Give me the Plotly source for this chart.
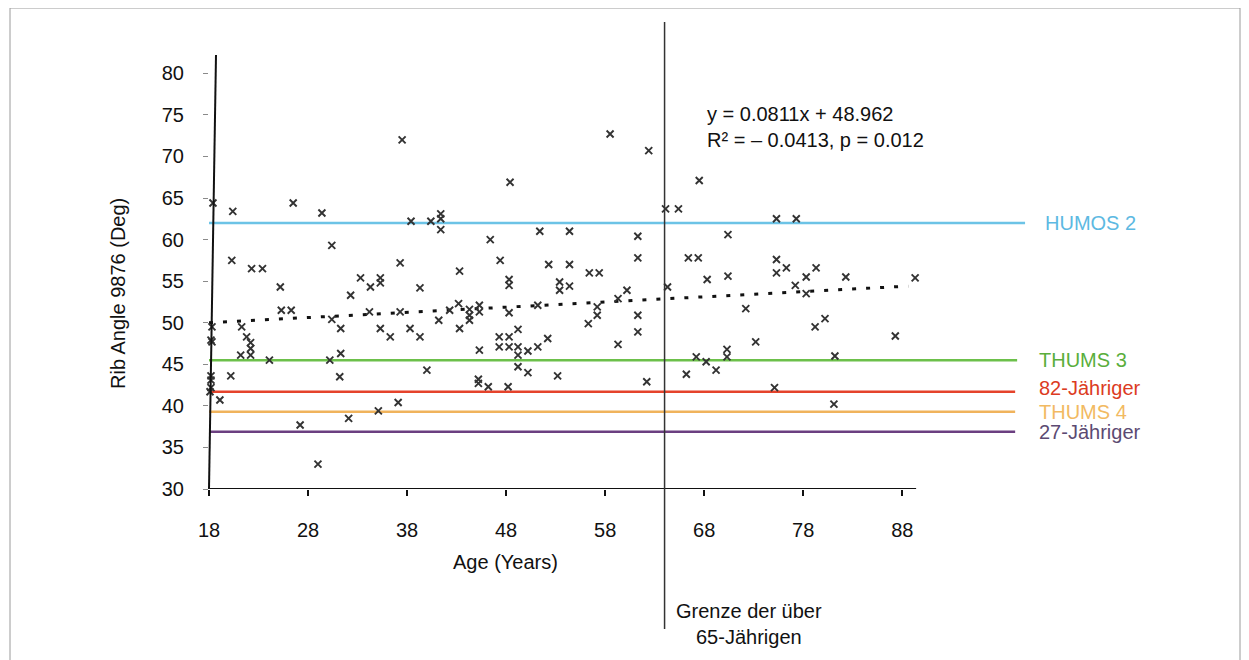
import plotly.graph_objects as go

# ---------------- data ----------------
age = [
    37.5, 18.4, 20.4, 26.5, 29.4, 38.4, 40.4, 41.4, 41.4, 41.4,
    48.4, 58.5, 62.4, 46.4, 51.4, 54.4, 61.3, 64.1, 65.4, 67.5,
    75.3, 77.3, 70.4, 30.4, 20.3, 22.3, 23.4, 25.2, 37.3, 33.3,
    34.3, 35.3, 35.3, 32.3, 39.3, 25.3, 26.3, 30.4, 34.2, 37.3,
    21.3, 18.3, 18.2, 21.8, 22.2, 22.2, 22.2, 21.2, 18.3, 31.3,
    35.3, 36.3, 38.3, 39.3, 31.3, 24.1, 30.2, 40.0, 20.2, 31.2,
    18.2, 18.2, 18.2, 18.1, 19.1, 37.1, 35.1, 32.1, 27.2, 29.0,
    47.4, 61.3, 43.3, 52.3, 54.4, 56.4, 57.4, 48.3, 48.3, 53.4,
    53.4, 54.4, 60.2, 59.3, 43.2, 42.3, 44.3, 44.3, 44.3, 45.3,
    45.3, 48.3, 51.2, 57.2, 57.2, 61.3, 41.2, 43.3, 56.3, 49.2,
    61.3, 47.3, 47.3, 48.3, 48.3, 49.2, 49.2, 50.2, 51.2, 52.2,
    45.3, 59.3, 49.2, 50.2, 53.2, 45.2, 45.2, 46.2, 48.2, 62.2,
    66.4, 67.4, 68.3, 70.4, 75.3, 75.3, 76.3, 77.2, 78.3, 79.3,
    78.3, 82.3, 89.3, 64.3, 72.2, 79.2, 80.2, 87.3, 73.2, 70.3,
    70.3, 67.2, 68.2, 69.2, 66.2, 81.2, 75.1, 81.1,
]
rib_angle = [
    72.0, 64.4, 63.4, 64.4, 63.2, 62.2, 62.2, 63.1, 62.5, 61.2,
    66.9, 72.7, 70.7, 60.0, 61.0, 61.0, 60.4, 63.7, 63.7, 67.1,
    62.5, 62.5, 60.6, 59.3, 57.5, 56.5, 56.5, 54.3, 57.2, 55.4,
    54.3, 55.4, 54.8, 53.3, 54.2, 51.5, 51.5, 50.4, 51.3, 51.3,
    49.5, 49.5, 47.9, 48.3, 47.6, 46.9, 46.1, 46.1, 47.7, 49.3,
    49.3, 48.3, 49.3, 48.3, 46.3, 45.5, 45.5, 44.3, 43.6, 43.5,
    43.6, 43.1, 42.2, 41.7, 40.7, 40.4, 39.4, 38.5, 37.7, 33.0,
    57.5, 57.8, 56.2, 57.0, 57.0, 56.0, 56.0, 55.2, 54.5, 54.9,
    53.9, 54.4, 53.9, 52.9, 52.3, 51.5, 51.6, 50.9, 50.3, 52.1,
    51.3, 51.2, 52.1, 51.9, 50.9, 50.9, 50.3, 49.3, 49.9, 49.2,
    48.9, 48.3, 47.1, 48.3, 47.1, 47.1, 46.1, 46.6, 47.1, 48.1,
    46.7, 47.4, 44.7, 44.0, 43.6, 43.2, 42.7, 42.3, 42.3, 42.9,
    57.8, 57.8, 55.2, 55.6, 57.6, 56.0, 56.6, 54.5, 55.5, 56.6,
    53.5, 55.5, 55.4, 54.3, 51.7, 49.5, 50.5, 48.4, 47.7, 46.8,
    45.9, 45.9, 45.3, 44.3, 43.8, 46.0, 42.2, 40.2,
]

trend_age = [18, 88.6]
trend_angle = [50.0, 54.4]

ref_names = ["HUMOS 2", "THUMS 3", "82-Jähriger", "THUMS 4", "27-Jähriger"]
ref_values = [62.0, 45.5, 41.7, 39.3, 36.9]
ref_end_age = [100.4, 99.6, 99.4, 99.4, 99.4]
ref_colors = ["#6cc3e6", "#6cc04a", "#e5432b", "#f0b35c", "#6b3f80"]
ref_text_colors = ["#5db9e2", "#5aae3c", "#dc3b22", "#f2ba62", "#5c4a72"]

age_ticks = [18, 28, 38, 48, 58, 68, 78, 88]
angle_ticks = [30, 35, 40, 45, 50, 55, 60, 65, 70, 75, 80]

border_age = 64.0
equation_lines = ["y = 0.0811x + 48.962", "R² = – 0.0413, p = 0.012"]
border_label = "Grenze der über<br>65-Jährigen"

# ---------------- layout geometry (pixels, page coordinates) ----------------
OFF = 8                     # default body margin of the html page
W, H = 1249 - OFF, 660 - OFF
PW, PH = 822, 434
ML, MT = 209 - OFF, 55 - OFF
MR, MB = W - ML - PW, H - MT - PH
X_RANGE = [18, 101]
Y_RANGE = [30, 82.2]
X_AXIS_END = 89.4
FONT = "Liberation Sans, Arial, sans-serif"


def px_x(p):
    return (p - OFF - ML) / PW


def px_y(p):
    return (MT + PH - (p - OFF)) / PH


fig = go.Figure()

# reference horizontal lines
for name, val, end, col in zip(ref_names, ref_values, ref_end_age, ref_colors):
    fig.add_trace(go.Scatter(x=[X_RANGE[0], end], y=[val, val], mode="lines",
                             line=dict(color=col, width=2.5), hoverinfo="skip",
                             showlegend=False, cliponaxis=False))

# trend line
fig.add_trace(go.Scatter(x=trend_age, y=trend_angle, mode="lines",
                         line=dict(color="#111111", width=3, dash="4px,10px"),
                         showlegend=False, hoverinfo="skip"))

# data points
fig.add_trace(go.Scatter(x=age, y=rib_angle, mode="markers",
                         marker=dict(symbol="x-thin", size=7,
                                     line=dict(color="#333333", width=1.9)),
                         showlegend=False, cliponaxis=False))

shapes = [
    dict(type="line", xref="x", yref="y", x0=X_RANGE[0], x1=X_AXIS_END,
         y0=Y_RANGE[0], y1=Y_RANGE[0], line=dict(color="#111111", width=2)),
    dict(type="line", xref="paper", yref="paper", x0=0, x1=px_x(216),
         y0=0, y1=1, line=dict(color="#111111", width=2)),
    dict(type="line", xref="x", yref="paper", x0=border_age, x1=border_age,
         y0=px_y(629), y1=px_y(22), line=dict(color="#333333", width=1.5)),
    dict(type="rect", xref="paper", yref="paper", x0=px_x(10), x1=px_x(1240),
         y0=px_y(675), y1=px_y(8), line=dict(color="#9a9a9a", width=1)),
]

annotations = []
label_x = [1043, 1037, 1037, 1037, 1037]
label_shift = [0, 0, 4, 0, 0]
for name, val, col, lx, sh in zip(ref_names, ref_values, ref_text_colors, label_x, label_shift):
    annotations.append(dict(text=name, xref="paper", yref="y", x=px_x(lx), y=val,
                            xanchor="left", yanchor="middle", yshift=sh, showarrow=False,
                            font=dict(family=FONT, size=20, color=col)))

annotations.append(dict(text="<br>".join(equation_lines), xref="paper", yref="paper",
                        x=px_x(705), y=px_y(127), xanchor="left", yanchor="middle",
                        align="left", showarrow=False,
                        font=dict(family=FONT, size=20, color="#111111")))
annotations.append(dict(text=border_label, xref="paper", yref="paper",
                        x=px_x(749), y=px_y(624), xanchor="center", yanchor="middle",
                        align="center", showarrow=False,
                        font=dict(family=FONT, size=20, color="#111111")))
annotations.append(dict(text="Rib Angle 9876 (Deg)", xref="paper", yref="paper",
                        x=px_x(118), y=px_y(294), textangle=-90, xanchor="center",
                        yanchor="middle", showarrow=False,
                        font=dict(family=FONT, size=20, color="#111111")))
annotations.append(dict(text="Age (Years)", xref="paper", yref="paper",
                        x=px_x(505), y=px_y(562), xanchor="center", yanchor="middle",
                        showarrow=False, font=dict(family=FONT, size=20, color="#111111")))

fig.update_layout(
    width=W, height=H,
    margin=dict(l=ML, r=MR, t=MT, b=MB),
    paper_bgcolor="white", plot_bgcolor="white",
    font=dict(family=FONT, size=20, color="#111111"),
    shapes=shapes, annotations=annotations,
    xaxis=dict(range=X_RANGE, tickvals=age_ticks, ticktext=[str(t) for t in age_ticks],
               showgrid=False, zeroline=False, showline=False,
               ticks="outside", ticklen=6, tickwidth=2, tickcolor="#111111",
               ticklabelstandoff=17, tickfont=dict(size=20)),
    yaxis=dict(range=Y_RANGE, tickvals=angle_ticks, ticktext=[str(t) for t in angle_ticks],
               showgrid=False, zeroline=False, showline=False,
               ticks="outside", ticklen=5, tickwidth=1, tickcolor="#8a8a8a",
               ticklabelstandoff=15, tickfont=dict(size=20)),
)

fig.write_html("out.html")
